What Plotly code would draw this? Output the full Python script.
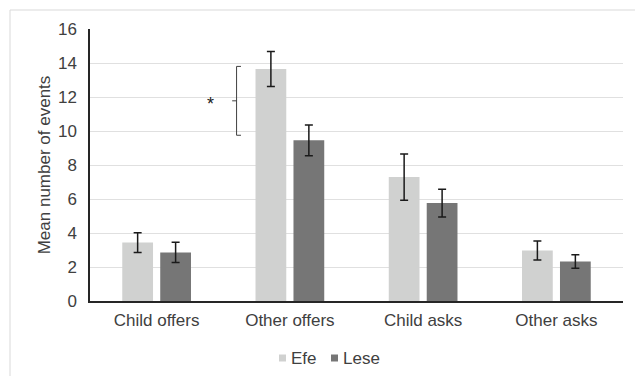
import plotly.graph_objects as go

# Mean number of events per category, with standard-error bars
categories = ["Child offers", "Other offers", "Child asks", "Other asks"]
efe_means = [3.44, 13.65, 7.29, 2.97]
efe_err = [0.58, 1.03, 1.36, 0.56]
lese_means = [2.86, 9.45, 5.76, 2.32]
lese_err = [0.60, 0.90, 0.82, 0.40]

series_names = ["Efe", "Lese"]
series_colors = ["#d0d1d0", "#767676"]

# Significance marker between Efe and Lese for "Other offers"
sig_top = 13.8
sig_bottom = 9.75
sig_label = "*"

font_family = "Liberation Sans, Arial, sans-serif"
text_color = "#404040"

fig = go.Figure()
for name, color, means, err in zip(series_names, series_colors,
                                   [efe_means, lese_means], [efe_err, lese_err]):
    fig.add_trace(go.Bar(
        name=name, x=categories, y=means,
        marker=dict(color=color, line=dict(width=0)),
        error_y=dict(type="data", array=err, color="#1a1a1a", thickness=1.5, width=4),
        showlegend=False,
    ))

# Bracket with a centre tick, left of the "Other offers" pair
bx = 0.6
bracket_style = dict(color="#404040", width=1)
fig.add_shape(type="line", xref="x", yref="y", x0=bx, x1=bx, y0=sig_bottom, y1=sig_top, line=bracket_style)
fig.add_shape(type="line", xref="x", yref="y", x0=bx, x1=bx + 0.033, y0=sig_top, y1=sig_top, line=bracket_style)
fig.add_shape(type="line", xref="x", yref="y", x0=bx, x1=bx + 0.033, y0=sig_bottom, y1=sig_bottom, line=bracket_style)
sig_mid = (sig_top + sig_bottom) / 2
fig.add_shape(type="line", xref="x", yref="y", x0=bx - 0.033, x1=bx, y0=sig_mid, y1=sig_mid, line=bracket_style)
fig.add_annotation(x=0.405, y=sig_mid, xref="x", yref="y", text=sig_label, showarrow=False,
                   font=dict(family=font_family, size=18, color="#202020"), yshift=-3)

# Legend drawn as small swatches with labels below the axis
plot_l, plot_r, plot_t, plot_b = 90, 12, 29, 75
pw = 635 - plot_l - plot_r
ph = 376 - plot_t - plot_b

def px_x(px):
    return (px - plot_l) / pw

def px_y(py):
    return (376 - plot_b - py) / ph

legend_swatch_x = [279, 331]
legend_y = 358
for name, color, sx in zip(series_names, series_colors, legend_swatch_x):
    fig.add_shape(type="rect", xref="paper", yref="paper",
                  x0=px_x(sx), x1=px_x(sx + 7), y0=px_y(legend_y + 3.5), y1=px_y(legend_y - 3.5),
                  line=dict(width=0), fillcolor=color)
    fig.add_annotation(x=px_x(sx + 10), y=px_y(legend_y), xref="paper", yref="paper",
                       xanchor="left", yanchor="middle", text=name, showarrow=False,
                       font=dict(family=font_family, size=17, color=text_color))

# Outer chart frame
fig.add_shape(type="rect", xref="paper", yref="paper", x0=px_x(10), x1=px_x(660), y0=px_y(420), y1=px_y(10),
              line=dict(color="#d9d9d9", width=1), fillcolor="rgba(0,0,0,0)", layer="below")

fig.update_layout(
    width=635, height=376,
    margin=dict(l=plot_l, r=plot_r, t=plot_t, b=plot_b, autoexpand=False),
    paper_bgcolor="white", plot_bgcolor="white",
    barmode="group", bargap=0.43, bargroupgap=0.19,
    font=dict(family=font_family, size=17, color=text_color),
    showlegend=False,
    xaxis=dict(showline=True, linecolor="#262626", linewidth=1.5, ticks="",
               tickfont=dict(size=17, color=text_color), showgrid=False, automargin=False,
               ticklabelstandoff=3),
    yaxis=dict(range=[0, 16], dtick=2, showline=True, linecolor="#262626", linewidth=1.5,
               gridcolor="#e0e0e0", gridwidth=1.2, zeroline=False, ticks="",
               tickfont=dict(size=17, color=text_color), ticklabelstandoff=8, automargin=False,
               title=dict(text="Mean number of events", font=dict(size=17, color=text_color), standoff=3)),
)

fig.write_html("out.html")
